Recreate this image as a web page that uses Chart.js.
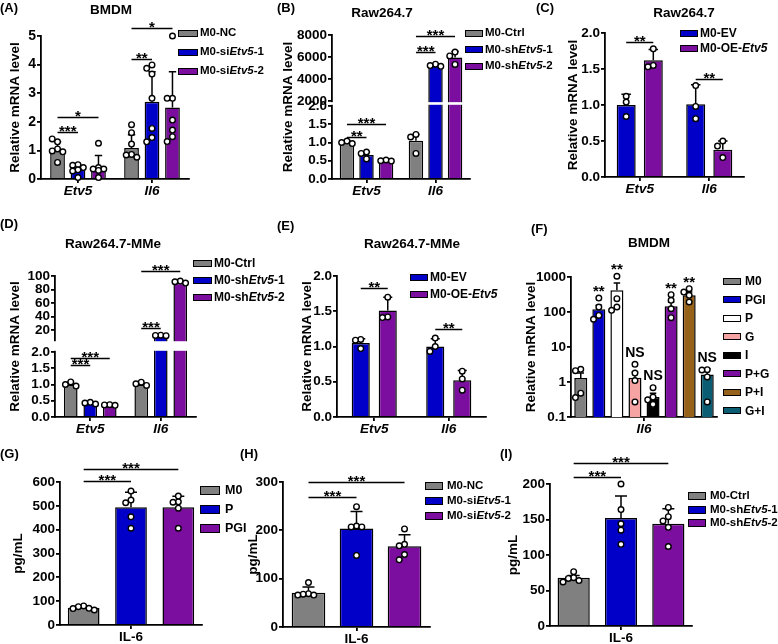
<!DOCTYPE html>
<html>
<head>
<meta charset="utf-8">
<title>Etv5 / Il6 expression</title>
<script src="https://cdn.jsdelivr.net/npm/chart.js@4.4.1/dist/chart.umd.min.js"></script>
<style>
  body { margin: 0; background: #fff; }
  #fig { position: relative; width: 778px; height: 644px; overflow: hidden; font-family: "Liberation Sans", Arial, sans-serif; font-weight: bold; color: #000; }
  #fig canvas { position: absolute; }
  .tag { position: absolute; font-size: 13px; line-height: 1; }
  .ttl { position: absolute; font-size: 13.5px; line-height: 1; transform: translate(-50%, -50%); white-space: nowrap; }
  .lgbox { position: absolute; box-sizing: border-box; border: 1.5px solid #000; }
  .lgtxt { position: absolute; line-height: 1; transform: translateY(-50%); white-space: nowrap; }
</style>
</head>
<body>
<div id="fig"></div>
<script>
const FONT = '"Liberation Sans", Arial, sans-serif';
const GRAY = '#808080', BLUE = '#0000c8', PURPLE = '#7b0e9e';

// (A) BMDM, siRNA
const aCats = ['Etv5', 'Il6'];
const aSeries = ['M0-NC', 'M0-siEtv5-1', 'M0-siEtv5-2'];
const aMean = [[1.03, 1.08], [0.33, 2.70], [0.42, 2.50]];
const aSD = [[0.27, 0.47], [0.13, 1.05], [0.40, 1.25]];
const aPts = [
  [[1.30, 1.40, 1.05, 0.98, 0.95, 0.58], [1.90, 1.62, 1.22, 0.86, 0.84, 0.76]],
  [[0.50, 0.48, 0.40, 0.32, 0.28, 0.05], [3.99, 3.87, 3.67, 2.82, 1.77, 1.45, 1.30]],
  [[1.25, 0.40, 0.35, 0.35, 0.30, 0.05], [5.00, 2.82, 2.82, 2.06, 1.71, 1.48, 1.31]]
];
const aTicks = [0, 1, 2, 3, 4, 5];
const aSig = [[0, 0, 1, 1.65, '***'], [0, 0, 2, 2.18, '*'], [1, 0, 1, 4.18, '**'], [1, 0, 2, 5.27, '*']];

// (B) Raw264.7, shRNA
const bCats = ['Etv5', 'Il6'];
const bSeries = ['M0-Ctrl', 'M0-shEtv5-1', 'M0-shEtv5-2'];
const bMean = [[1.00, 1.05], [0.66, 5230], [0.50, 5950]];
const bSD = [[0.04, 0.17], [0.08, 110], [0.02, 560]];
const bPts = [
  [[1.04, 1.00, 0.97], [1.22, 1.15, 0.70]],
  [[0.74, 0.70, 0.55], [5350, 5220, 5150]],
  [[0.52, 0.50, 0.49], [6450, 6100, 5320]]
];
const bTicks = [0, 0.5, 1, 1.5, 2, 2000, 4000, 6000, 8000];
const bSig = [[0, 0, 1, 1.16, '**'], [0, 0, 2, 1.51, '***'], [1, 0, 1, 6420, '***'], [1, 0, 2, 7950, '***']];

// (C) Raw264.7, overexpression
const cCats = ['Etv5', 'Il6'];
const cSeries = ['M0-EV', 'M0-OE-Etv5'];
const cMean = [[1.00, 1.01], [1.62, 0.38]];
const cSD = [[0.15, 0.27], [0.15, 0.12]];
const cPts = [
  [[1.12, 1.04, 0.84], [1.27, 0.98, 0.81]],
  [[1.78, 1.55, 1.53], [0.50, 0.43, 0.27]]
];
const cTicks = [0, 0.5, 1, 1.5, 2];
const cSig = [[0, 0, 1, 1.88, '**'], [1, 0, 1, 1.36, '**']];

// (D) Raw264.7-MMe, shRNA
const dCats = ['Etv5', 'Il6'];
const dSeries = ['M0-Ctrl', 'M0-shEtv5-1', 'M0-shEtv5-2'];
const dMean = [[1.00, 1.00], [0.42, 11.5], [0.37, 90]];
const dSD = [[0.07, 0.05], [0.03, 0.5], [0.02, 2]];
const dPts = [
  [[1.08, 1.00, 0.95], [1.07, 1.02, 0.97]],
  [[0.45, 0.43, 0.40], [12.2, 11.8, 11.5]],
  [[0.38, 0.37, 0.36], [92.5, 91.5, 89.5]]
];
const dTicks = [0, 0.5, 1, 1.5, 2, 20, 40, 60, 80, 100];
const dSig = [[0, 0, 1, 1.61, '***'], [0, 0, 2, 1.82, '***'], [1, 0, 1, 22.5, '***'], [1, 0, 2, 107.4, '***']];

// (E) Raw264.7-MMe, overexpression
const eCats = ['Etv5', 'Il6'];
const eSeries = ['M0-EV', 'M0-OE-Etv5'];
const eMean = [[1.05, 1.00], [1.51, 0.52]];
const eSD = [[0.06, 0.11], [0.19, 0.14]];
const ePts = [
  [[1.10, 1.09, 0.97], [1.12, 1.00, 0.93]],
  [[1.70, 1.42, 1.41], [0.65, 0.54, 0.38]]
];
const eTicks = [0, 0.5, 1, 1.5, 2];
const eSig = [[0, 0, 1, 1.83, '**'], [1, 0, 1, 1.25, '**']];

// (F) BMDM, stimulations (log scale)
const fCats = ['Il6'];
const fSeries = ['M0', 'PGI', 'P', 'G', 'I', 'P+G', 'P+I', 'G+I'];
const fMean = [[1.30], [119], [416], [1.33], [0.37], [145], [300], [1.65]];
const fSD = [[0.5], [36], [260], [0.6], [0.11], [48], [72], [0.75]];
const fPts = [
  [[2.3, 2.1, 0.48, 0.36]], [[250, 138, 80, 62]], [[1050, 240, 139, 112]], [[3.2, 1.8, 1.1, 0.27]],
  [[0.69, 0.37, 0.31, 0.23]], [[313, 215, 124, 69]], [[464, 372, 300, 193]], [[2.25, 2.2, 1.4, 0.27]]
];
const fTicks = [0.1, 1, 10, 100, 1000];
const fMarks = ['', '**', '**', 'NS', 'NS', '**', '**', 'NS'];

// (G) IL-6 secretion, stimulations
const gCats = ['IL-6'];
const gSeries = ['M0', 'P', 'PGI'];
const gMean = [[72], [494], [494]];
const gSD = [[6], [63], [46]];
const gPts = [[[80, 77, 70, 69, 63]], [[562, 524, 513, 454, 406]], [[541, 517, 515, 490, 406]]];
const gTicks = [0, 100, 200, 300, 400, 500, 600];
const gSig = [[0, 0, 1, 604, '***'], [0, 0, 2, 653, '***']];

// (H) IL-6 secretion, siRNA
const hCats = ['IL-6'];
const hSeries = ['M0-NC', 'M0-siEtv5-1', 'M0-siEtv5-2'];
const hMean = [[71], [204], [167]];
const hSD = [[12], [35], [24]];
const hPts = [[[92, 69, 68, 66, 66]], [[249, 209, 207, 207, 148]], [[203, 171, 168, 150, 139]]];
const hTicks = [0, 100, 200, 300];
const hSig = [[0, 0, 1, 269, '***'], [0, 0, 2, 301, '***']];

// (I) IL-6 secretion, shRNA
const iCats = ['IL-6'];
const iSeries = ['M0-Ctrl', 'M0-shEtv5-1', 'M0-shEtv5-2'];
const iMean = [[68], [152], [144]];
const iSD = [[3], [31], [21]];
const iPts = [[[76.5, 68, 67, 64, 62]], [[200, 164, 144, 135, 115]], [[167, 154, 148, 139, 112]]];
const iTicks = [0, 50, 100, 150, 200];
const iSig = [[0, 0, 1, 210, '***'], [0, 0, 2, 230, '***']];

const oneDec = v => v.toFixed(1);
const plain = v => String(v);
const splitFmt = v => (v <= 2 ? v.toFixed(1) : String(v));
const MRNA = 'Relative mRNA level';
const THREE = [GRAY, BLUE, PURPLE];

const panels = [
  { tag: '(A)', tagAt: [0, 1], title: 'BMDM', titleAt: [111, 10], box: [0, 0, 200, 205], area: [41, 36, 189, 179],
    yTitle: MRNA, yTitleX: 15, cats: aCats, series: aSeries, mean: aMean, sd: aSD, pts: aPts, ticks: aTicks, sig: aSig,
    colors: THREE, min: 0, max: 5, fmt: plain, catPct: 0.83, barPct: 0.72, tickSize: 14,
    legend: { x: 178, w: 20, h: 7, tx: 200, size: 11.5, rows: [33, 52, 71] } },
  { tag: '(B)', tagAt: [277, 1], title: 'Raw264.7', titleAt: [382, 12.5], box: [260, 0, 474, 205], area: [332, 35, 470, 179],
    yTitle: MRNA, yTitleX: 288, cats: bCats, series: bSeries, mean: bMean, sd: bSD, pts: bPts, ticks: bTicks, sig: bSig,
    colors: THREE, min: 0, max: 8000, fmt: splitFmt, catPct: 0.85, barPct: 0.74, type: 'broken',
    gap: { lo: 2, hi: 2000, loFrac: 0.507, hiFrac: 0.542 },
    legend: { x: 465, w: 18, h: 7, tx: 485, size: 11.5, rows: [33, 49.5, 66] } },
  { tag: '(C)', tagAt: [536, 1], title: 'Raw264.7', titleAt: [684, 12.5], box: [520, 0, 748, 205], area: [605, 33, 744, 177],
    yTitle: MRNA, yTitleX: 573, cats: cCats, series: cSeries, mean: cMean, sd: cSD, pts: cPts, ticks: cTicks, sig: cSig,
    colors: [BLUE, PURPLE], min: 0, max: 2, fmt: oneDec, catPct: 0.78, barPct: 0.70,
    legend: { x: 680, w: 18, h: 7, tx: 700, size: 12, rows: [33, 48] } },
  { tag: '(D)', tagAt: [0, 217], title: 'Raw264.7-MMe', titleAt: [113, 244], box: [0, 215, 200, 440], area: [55, 276, 196, 417],
    yTitle: MRNA, yTitleX: 15, cats: dCats, series: dSeries, mean: dMean, sd: dSD, pts: dPts, ticks: dTicks, sig: dSig,
    colors: THREE, min: 0, max: 100, fmt: splitFmt, catPct: 0.83, barPct: 0.70, type: 'broken',
    gap: { lo: 2, hi: 5, loFrac: 0.461, hiFrac: 0.546 },
    legend: { x: 193, w: 19, h: 7, tx: 214, size: 12, rows: [263, 280, 297] } },
  { tag: '(E)', tagAt: [277, 219], title: 'Raw264.7-MMe', titleAt: [412, 244], box: [260, 215, 490, 440], area: [337, 276, 486, 417],
    yTitle: MRNA, yTitleX: 307, cats: eCats, series: eSeries, mean: eMean, sd: eSD, pts: ePts, ticks: eTicks, sig: eSig,
    colors: [BLUE, PURPLE], min: 0, max: 2, fmt: oneDec, catPct: 0.725, barPct: 0.67,
    legend: { x: 410, w: 18, h: 7, tx: 430, size: 12, rows: [277, 294] } },
  { tag: '(F)', tagAt: [531, 222], title: 'BMDM', titleAt: [649, 243], box: [518, 215, 722, 440], area: [571, 277, 717, 417],
    yTitle: MRNA, yTitleX: 531, cats: fCats, series: fSeries, mean: fMean, sd: fSD, pts: fPts, ticks: fTicks, marks: fMarks,
    colors: [GRAY, BLUE, '#ffffff', '#f5a3a3', '#000000', PURPLE, '#96621a', '#0b5d73'],
    min: 0.1, max: 1000, fmt: plain, catPct: 0.99, barPct: 0.72, type: 'logarithmic',
    legend: { x: 723, w: 18, h: 7, tx: 745, size: 12, rows: [281, 299.5, 318, 336.5, 355, 373.5, 392, 410.5] } },
  { tag: '(G)', tagAt: [0, 447], box: [0, 440, 210, 644], area: [60, 482, 202, 625],
    yTitle: 'pg/mL', yTitleX: 18, cats: gCats, series: gSeries, mean: gMean, sd: gSD, pts: gPts, ticks: gTicks, sig: gSig,
    colors: THREE, min: 0, max: 600, fmt: plain, catPct: 1.0, barPct: 0.67, upright: true,
    legend: { x: 200, w: 20, h: 9, tx: 225, size: 12.5, rows: [490, 509, 528] } },
  { tag: '(H)', tagAt: [240, 447], box: [236, 440, 434, 644], area: [283, 482, 430, 627],
    yTitle: 'pg/mL', yTitleX: 253, cats: hCats, series: hSeries, mean: hMean, sd: hSD, pts: hPts, ticks: hTicks, sig: hSig,
    colors: THREE, min: 0, max: 300, fmt: plain, catPct: 0.98, barPct: 0.70, upright: true,
    legend: { x: 425, w: 18, h: 8, tx: 447, size: 11.5, rows: [486, 501, 516] } },
  { tag: '(I)', tagAt: [500, 447], box: [496, 440, 700, 644], area: [550, 484, 692, 626],
    yTitle: 'pg/mL', yTitleX: 513, cats: iCats, series: iSeries, mean: iMean, sd: iSD, pts: iPts, ticks: iTicks, sig: iSig,
    colors: THREE, min: 0, max: 200, fmt: plain, catPct: 1.0, barPct: 0.68, upright: true,
    legend: { x: 688, w: 18, h: 8, tx: 710, size: 11.5, rows: [496, 509.5, 523] } }
];

const extrasFor = new WeakMap();
const R = 2.8;

// linear axis with a cut between gap.lo and gap.hi
class BrokenScale extends Chart.LinearScale {
  getPixelForValue(v) {
    const g = extrasFor.get(this.chart.canvas).gap;
    let d;
    if (v <= g.lo) d = (v - this.min) / (g.lo - this.min) * g.loFrac;
    else if (v >= g.hi) d = g.hiFrac + (v - g.hi) / (this.max - g.hi) * (1 - g.hiFrac);
    else d = g.loFrac + (v - g.lo) / (g.hi - g.lo) * (g.hiFrac - g.loFrac);
    return this.getPixelForDecimal(d);
  }
}
BrokenScale.id = 'broken';
BrokenScale.defaults = Chart.LinearScale.defaults;
Chart.register(BrokenScale);

function spreadDots(cx, ys, vals, maxOff) {
  const placed = [];
  vals.forEach(v => {
    const y = ys.getPixelForValue(v);
    let best = cx, bestHit = Infinity;
    for (let k = 0; k < 15; k++) {
      const off = (k % 2 ? -1 : 1) * Math.ceil(k / 2) * R * 1.9;
      if (Math.abs(off) > maxOff) continue;
      const hit = placed.filter(p => Math.hypot(p.x - cx - off, p.y - y) < R * 1.9).length;
      if (hit < bestHit) { best = cx + off; bestHit = hit; }
      if (hit === 0) break;
    }
    placed.push({ x: best, y: y });
  });
  return placed;
}

const barExtras = {
  id: 'barExtras',
  afterDatasetsDraw(chart) {
    const p = extrasFor.get(chart.canvas);
    if (!p) return;
    const ctx = chart.ctx, ys = chart.scales.y, a = chart.chartArea;
    ctx.save();
    if (p.gap) {
      const yHi = ys.getPixelForValue(p.gap.hi), yLo = ys.getPixelForValue(p.gap.lo);
      ctx.fillStyle = '#fff';
      ctx.fillRect(a.left - 3, yHi + 1.2, a.right - a.left + 6, yLo - yHi - 2.4);
    }
    ctx.strokeStyle = '#000';
    ctx.fillStyle = '#000';
    chart.data.datasets.forEach((ds, di) => {
      chart.getDatasetMeta(di).data.forEach((bar, i) => {
        const top = ys.getPixelForValue(p.mean[di][i] + p.sd[di][i]);
        const cap = Math.min(bar.width * 0.25, 6);
        ctx.lineWidth = 1.5;
        ctx.beginPath();
        ctx.moveTo(bar.x, bar.y);
        ctx.lineTo(bar.x, top);
        ctx.moveTo(bar.x - cap, top);
        ctx.lineTo(bar.x + cap, top);
        ctx.stroke();
        const dots = spreadDots(bar.x, ys, p.pts[di][i], bar.width / 2 + R * 0.5);
        ctx.lineWidth = 1.4;
        dots.forEach(d => {
          ctx.beginPath();
          ctx.arc(d.x, d.y, R, 0, 2 * Math.PI);
          ctx.fillStyle = '#fff';
          ctx.fill();
          ctx.stroke();
        });
        if (p.marks && p.marks[di]) {
          const t = p.marks[di];
          const hi = Math.min(top, ...dots.map(d => d.y - R)) - 5;
          ctx.fillStyle = '#000';
          ctx.textAlign = 'center';
          ctx.textBaseline = 'alphabetic';
          ctx.font = (t === 'NS' ? 'bold 14px ' : 'bold 15px ') + FONT;
          ctx.fillText(t, bar.x, t === 'NS' ? hi : hi + 6);
        }
      });
    });
    ctx.fillStyle = '#000';
    ctx.lineWidth = 1.5;
    ctx.textAlign = 'center';
    ctx.textBaseline = 'alphabetic';
    ctx.font = 'bold 15px ' + FONT;
    (p.sig || []).forEach(([cat, from, to, v, t]) => {
      const x1 = chart.getDatasetMeta(from).data[cat].x;
      const x2 = chart.getDatasetMeta(to).data[cat].x;
      const y = Math.round(ys.getPixelForValue(v)) + 0.5;
      ctx.beginPath();
      ctx.moveTo(x1, y);
      ctx.lineTo(x2, y);
      ctx.stroke();
      ctx.fillText(t, (x1 + x2) / 2, y + 3);
    });
    ctx.restore();
  }
};

const fig = document.getElementById('fig');

function addDiv(cls, html, css) {
  const d = document.createElement('div');
  d.className = cls;
  d.innerHTML = html;
  Object.assign(d.style, css);
  fig.appendChild(d);
}

function makePanel(p) {
  const [bl, bt, br, bb] = p.box;
  const [al, at, ar, ab] = p.area;
  const cv = document.createElement('canvas');
  cv.width = br - bl;
  cv.height = bb - bt;
  cv.style.left = bl + 'px';
  cv.style.top = bt + 'px';
  fig.appendChild(cv);
  extrasFor.set(cv, p);

  const titleSize = 13.5;
  const axisGrid = { display: true, drawOnChartArea: false, color: '#000', lineWidth: 1.8, tickLength: 4 };
  const chart = new Chart(cv, {
    type: 'bar',
    data: {
      labels: p.cats,
      datasets: p.series.map((name, k) => ({
        label: name,
        data: p.mean[k],
        backgroundColor: p.colors[k],
        borderColor: '#000',
        borderWidth: 1.5,
        categoryPercentage: p.catPct,
        barPercentage: p.barPct
      }))
    },
    options: {
      responsive: false,
      animation: false,
      events: [],
      layout: { padding: { top: at - bt, right: br - ar, left: 0, bottom: 0 } },
      plugins: { legend: { display: false }, tooltip: { enabled: false } },
      scales: {
        x: {
          grid: Object.assign({ offset: false }, axisGrid),
          border: { color: '#000', width: 1.8 },
          ticks: { color: '#000', padding: 0, font: { family: FONT, size: 13.5, weight: 'bold', style: p.upright ? 'normal' : 'italic' } },
          afterFit: s => { s.height = bb - ab; }
        },
        y: {
          type: p.type || 'linear',
          min: p.min,
          max: p.max,
          grid: axisGrid,
          border: { color: '#000', width: 1.8 },
          ticks: { color: '#000', padding: 1, autoSkip: false, font: { family: FONT, size: p.tickSize || 13.5, weight: 'bold' },
                   callback: v => p.fmt(v) },
          title: { display: true, text: p.yTitle, color: '#000',
                   font: { family: FONT, size: titleSize, weight: 'bold', lineHeight: 1.2 },
                   padding: { top: p.yTitleX - bl - titleSize * 0.6, bottom: 0 } },
          afterBuildTicks: s => { s.ticks = p.ticks.map(v => ({ value: v })); },
          afterFit: s => { s.width = al - bl; }
        }
      }
    },
    plugins: [barExtras]
  });

  addDiv('tag', p.tag, { left: p.tagAt[0] + 'px', top: p.tagAt[1] + 'px' });
  if (p.title) addDiv('ttl', p.title, { left: p.titleAt[0] + 'px', top: p.titleAt[1] + 'px' });
  const lg = p.legend;
  chart.data.datasets.forEach((ds, k) => {
    const y = lg.rows[k];
    addDiv('lgbox', '', { left: lg.x + 'px', top: (y - lg.h / 2) + 'px', width: lg.w + 'px', height: lg.h + 'px', background: ds.backgroundColor });
    addDiv('lgtxt', ds.label.replace('Etv5', '<i>Etv5</i>'), { left: lg.tx + 'px', top: y + 'px', fontSize: lg.size + 'px' });
  });
}

panels.forEach(makePanel);
</script>
</body>
</html>
